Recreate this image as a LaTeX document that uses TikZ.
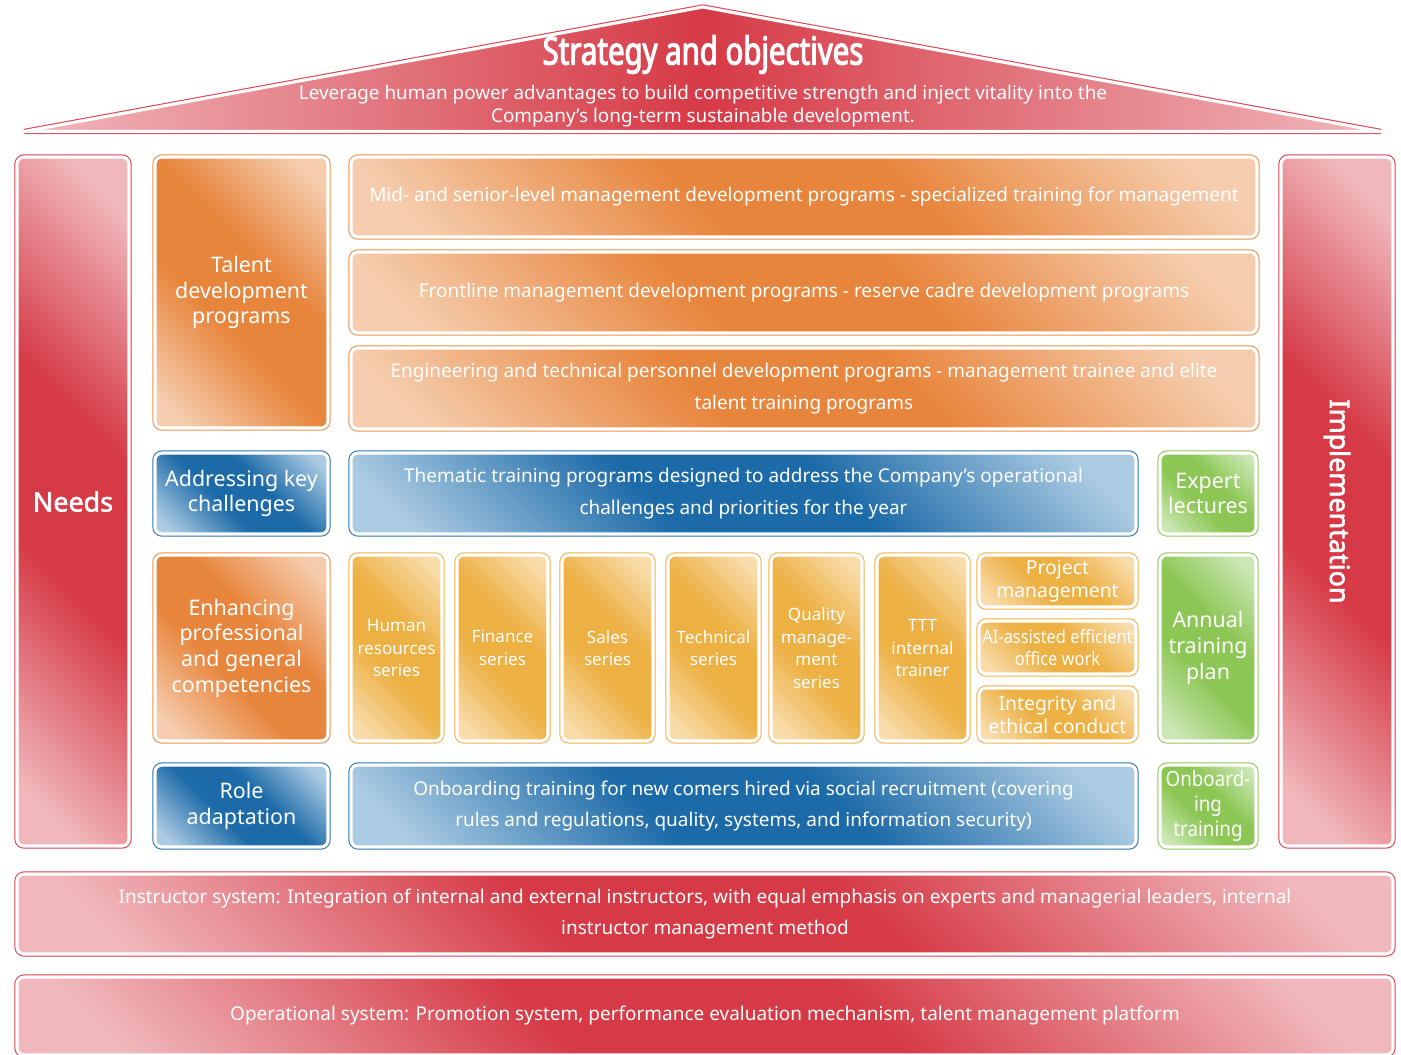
\documentclass[tikz,border=0pt]{standalone}
\usepackage{fontspec}
\setmainfont{Noto Sans}
\newfontfamily\narrowfont[FakeStretch=0.89]{Noto Sans}
\newfontfamily\heavyfont[FakeBold=2.2]{Noto Sans}
\newfontfamily\titlefont[FakeStretch=0.76, FakeBold=2.8]{Noto Sans}

\definecolor{redD}{HTML}{D63A46}
\definecolor{redL}{HTML}{F0B8BC}
\definecolor{redB}{HTML}{D9414E}
\definecolor{orangeD}{HTML}{E8853C}
\definecolor{orangeL}{HTML}{F5CDAE}
\definecolor{orangeB}{HTML}{EC9048}
\definecolor{yellowD}{HTML}{EDB043}
\definecolor{yellowL}{HTML}{F8DCAA}
\definecolor{yellowB}{HTML}{F0B24A}
\definecolor{blueD}{HTML}{1C6AA8}
\definecolor{blueL}{HTML}{ABCBE2}
\definecolor{blueB}{HTML}{2C74B0}
\definecolor{greenD}{HTML}{8CC654}
\definecolor{greenL}{HTML}{CBE7B5}
\definecolor{greenB}{HTML}{8DC85A}

% light - dark - light band, turned by the tile styles
\newcommand\tileshading[3]{%
  \pgfdeclareverticalshading{#1}{100bp}{color(0bp)=(#2); color(20bp)=(#2);
    color(42bp)=(#3); color(58bp)=(#3); color(80bp)=(#2); color(100bp)=(#2)}}
\tileshading{redshade}{redL}{redD}
\tileshading{orangeshade}{orangeL}{orangeD}
\tileshading{yellowshade}{yellowL}{yellowD}
\tileshading{blueshade}{blueL}{blueD}
\tileshading{greenshade}{greenL}{greenD}

\tikzset{
  cell/.style n args={4}{at={({(#1+#3)/2},{(#2+#4)/2})},
    minimum width={(#3-#1)*0.02cm}, minimum height={(#4-#2)*0.02cm}},
  tile/.style={rectangle, rounded corners=4pt, inner sep=0pt, align=center, text=white,
    preaction={draw=#1, line width=3pt}, draw=white, line width=1.8pt},
  redtile/.style={tile=redB, shade, shading=redshade, shading angle=-45},
  orangetile/.style={tile=orangeB, shade, shading=orangeshade, shading angle=-45},
  yellowtile/.style={tile=yellowB, shade, shading=yellowshade, shading angle=-45},
  bluetile/.style={tile=blueB, shade, shading=blueshade, shading angle=-45},
  greentile/.style={tile=greenB, shade, shading=greenshade, shading angle=-45},
  bodytext/.style={font=\fontsize{10.8}{18}\selectfont},
  bigtext/.style={font=\fontsize{12.2}{14.6}\selectfont},
  smalltext/.style={font=\fontsize{9.7}{12.8}\selectfont},
  midtext/.style={font=\fontsize{11}{13}\selectfont},
  narrowtext/.style={font=\narrowfont\fontsize{10.5}{12.5}\selectfont},
  pillartext/.style={text=white, font=\heavyfont\fontsize{15.3}{17}\selectfont}
}

\begin{document}
\begin{tikzpicture}[x=0.02cm, y=-0.02cm]
  \useasboundingbox (0,0) rectangle (1401,1055);

  % roof
  \path[line join=round, preaction={draw=redB, line width=3pt}, draw=white, line width=1.8pt,
    left color=redL, right color=redL, middle color=redD]
    (24,131.5) -- (703,7) -- (1381,131.5) -- cycle;
  \node[text=white, font=\titlefont\fontsize{22}{24}\selectfont] (title) at (703,54.5) {Strategy and objectives};
  \node[text=white, align=center, font=\fontsize{10.75}{13}\selectfont] (goal) at (703,106.5)
    {Leverage human power advantages to build competitive strength and inject vitality into the\\Company's long-term sustainable development.};

  % pillars
  \node[redtile, cell={17}{157}{129}{846}, pillartext] (needs) {Needs};
  \node[redtile, cell={1281}{157}{1393}{846}] (impl) {};
  \node[pillartext, rotate=-90] (impltext) at (impl.center) {Implementation};

  % talent development
  \node[orangetile, cell={155}{157}{328}{428}, bigtext] (talent) {Talent\\development\\programs};
  \node[orangetile, cell={351}{157}{1257}{237}, bodytext] (senior) {Mid- and senior-level management development programs - specialized training for management};
  \node[orangetile, cell={351}{252}{1257}{333}, bodytext] (frontline) {Frontline management development programs - reserve cadre development programs};
  \node[orangetile, cell={351}{348}{1257}{429}, bodytext] (engineer) {Engineering and technical personnel development programs - management trainee and elite\\talent training programs};

  % key challenges
  \node[bluetile, cell={155}{453}{328}{534}, bigtext] (challenge) {Addressing key\\challenges};
  \node[bluetile, cell={351}{453}{1136}{534}, bodytext] (thematic) {Thematic training programs designed to address the Company's operational\\challenges and priorities for the year};
  \node[greentile, cell={1160}{453}{1256}{534}, bigtext] (expert) {Expert\\lectures};

  % competencies
  \node[orangetile, cell={155}{555}{328}{741}, bigtext] (compet) {Enhancing\\professional\\and general\\competencies};
  \node[yellowtile, cell={351}{555}{442}{741}, smalltext] (hr) {Human\\resources\\series};
  \node[yellowtile, cell={457}{555}{548}{741}, smalltext] (finance) {Finance\\series};
  \node[yellowtile, cell={562}{555}{653}{741}, smalltext] (sales) {Sales\\series};
  \node[yellowtile, cell={668}{555}{759}{741}, smalltext] (technical) {Technical\\series};
  \node[yellowtile, cell={771}{555}{862}{741}, smalltext] (quality) {Quality\\manage-\\ment\\series};
  \node[yellowtile, cell={877}{555}{968}{741}, smalltext] (ttt) {TTT\\internal\\trainer};
  \node[yellowtile, cell={979}{555}{1136}{607}, midtext] (project) {Project\\management};
  \node[yellowtile, cell={979}{621}{1136}{674}, narrowtext] (aioffice) {AI-assisted efficient\\office work};
  \node[yellowtile, cell={979}{688}{1136}{741}, midtext] (integrity) {Integrity and\\ethical conduct};
  \node[greentile, cell={1160}{555}{1256}{741}, bigtext] (annual) {Annual\\training\\plan};

  % role adaptation
  \node[bluetile, cell={155}{765}{328}{847}, bigtext] (role) {Role\\adaptation};
  \node[bluetile, cell={351}{765}{1136}{847}, bodytext] (newcomer) {Onboarding training for new comers hired via social recruitment (covering\\rules and regulations, quality, systems, and information security)};
  \node[greentile, cell={1160}{765}{1256}{847}, font=\narrowfont\fontsize{12}{14.5}\selectfont] (onboard) {Onboard-\\ing\\training};

  % foundations
  \node[redtile, cell={17}{874}{1393}{954}, bodytext] (instructor) {Instructor system: Integration of internal and external instructors, with equal emphasis on experts and managerial leaders, internal\\instructor management method};
  \node[redtile, cell={17}{977}{1393}{1055}, bodytext] (operation) {Operational system: Promotion system, performance evaluation mechanism, talent management platform};
\end{tikzpicture}
\end{document}
